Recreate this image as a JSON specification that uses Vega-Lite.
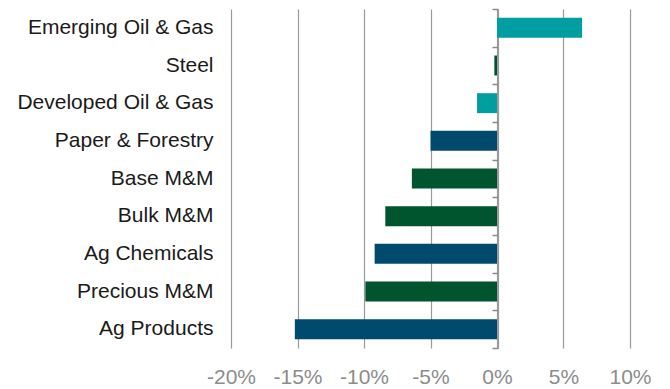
{
  "$schema": "https://vega.github.io/schema/vega-lite/v6.json",
  "autosize": "none",
  "width": 399,
  "height": 339,
  "padding": {"left": 231, "top": 9, "right": 40, "bottom": 41},
  "background": "white",
  "config": {
    "view": {"stroke": null},
    "font": "Liberation Sans"
  },
  "data": {
    "values": [
      {"sector": "Emerging Oil & Gas", "group": "Energy", "change": 0.064},
      {"sector": "Steel", "group": "Metals", "change": -0.002},
      {"sector": "Developed Oil & Gas", "group": "Energy", "change": -0.015},
      {"sector": "Paper & Forestry", "group": "Agri & Forest", "change": -0.050},
      {"sector": "Base M&M", "group": "Metals", "change": -0.064},
      {"sector": "Bulk M&M", "group": "Metals", "change": -0.084},
      {"sector": "Ag Chemicals", "group": "Agri & Forest", "change": -0.092},
      {"sector": "Precious M&M", "group": "Metals", "change": -0.099},
      {"sector": "Ag Products", "group": "Agri & Forest", "change": -0.152}
    ]
  },
  "layer": [
    {
      "mark": {"type": "bar", "height": {"band": 0.53}},
      "encoding": {
        "y": {
          "field": "sector", "type": "nominal", "sort": null,
          "scale": {"paddingInner": 0, "paddingOuter": 0},
          "axis": {
            "title": null, "domain": false, "ticks": false,
            "labelFontSize": 21, "labelColor": "#1a1a1a", "labelPadding": 18,
            "labelFont": "Liberation Sans", "labelLimit": 400
          }
        },
        "x": {
          "field": "change", "type": "quantitative",
          "scale": {"domain": [-0.2, 0.1], "nice": false, "zero": false},
          "axis": {
            "title": null, "values": [-0.2, -0.15, -0.1, -0.05, 0, 0.05, 0.1],
            "labelExpr": "replace(format(datum.value, '.0%'), '\u2212', '-')",
            "labelOverlap": false, "labelFlush": false,
            "domain": false, "ticks": false, "grid": true, "gridColor": "#9a9a9a", "gridWidth": 1.2,
            "labelFontSize": 21, "labelColor": "#8c8c8c", "labelPadding": 18,
            "labelFont": "Liberation Sans"
          }
        },
        "color": {
          "field": "group", "type": "nominal", "legend": null,
          "scale": {"domain": ["Energy", "Metals", "Agri & Forest"], "range": ["#009ea0", "#00552f", "#004a6d"]}
        }
      }
    },
    {
      "mark": {"type": "bar", "opacity": 0, "height": {"band": 0.53}},
      "encoding": {
        "y": {
          "field": "sector", "type": "nominal", "sort": null,
          "axis": {
            "orient": "left", "offset": -267, "title": null, "labels": false,
            "domain": true, "domainColor": "#9a9a9a", "domainWidth": 1.2,
            "ticks": true, "tickBand": "extent", "tickSize": 6, "tickColor": "#8a8a8a", "tickWidth": 1.5
          }
        },
        "x": {"field": "change", "type": "quantitative"}
      }
    }
  ],
  "resolve": {"axis": {"y": "independent"}}
}
